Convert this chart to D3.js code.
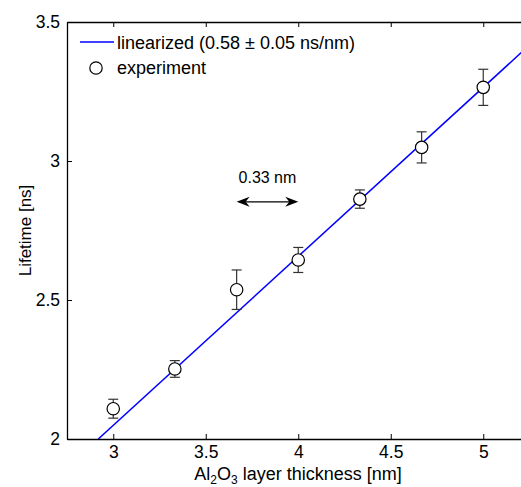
<!DOCTYPE html>
<html><head><meta charset="utf-8">
<script src="https://cdn.jsdelivr.net/npm/d3@7"></script>
<style>body{margin:0;background:#fff;} text{font-family:"Liberation Sans",Arial,sans-serif;}</style>
</head><body><svg id="c" width="521" height="487"></svg>
<script>
const thickness = [3.0, 3.333, 3.667, 4.0, 4.333, 4.667, 5.0];
const lifetime = [2.109, 2.252, 2.537, 2.644, 2.863, 3.049, 3.265];
const lifetimeErr = [0.034, 0.030, 0.071, 0.045, 0.033, 0.056, 0.065];
const fitX = [2.919, 5.25];
const fitY = [2.0, 3.417];
const xTicks = [3, 3.5, 4, 4.5, 5];
const yTicks = [2, 2.5, 3, 3.5];
const arrowX = [3.667, 4.0];
const arrowY = 2.853;

const svg = d3.select("#c");
const L = 67, T = 22, B = 439;
const x = d3.scaleLinear().domain([2.75, 5.25]).range([L, L + 2.5 * 185]);
const y = d3.scaleLinear().domain([2, 3.5]).range([B, T]);

const defs = svg.append("defs");
const clip = defs.append("clipPath").attr("id", "pc");
clip.append("rect").attr("x", L).attr("y", T).attr("width", x(5.25) - L).attr("height", B - T);

// axes
const fs = 18;
const xb = svg.append("g").attr("transform", `translate(0,${B})`)
  .call(d3.axisBottom(x).tickValues(xTicks).tickSizeInner(-5).tickSizeOuter(0).tickPadding(7).tickFormat(d3.format("")));
const xt = svg.append("g").attr("transform", `translate(0,${T})`)
  .call(d3.axisTop(x).tickValues(xTicks).tickSizeInner(-5).tickSizeOuter(0).tickFormat(""));
const yl = svg.append("g").attr("transform", `translate(${L},0)`)
  .call(d3.axisLeft(y).tickValues(yTicks).tickSizeInner(-5).tickSizeOuter(0).tickPadding(7).tickFormat(d3.format("")));
[xb, xt, yl].forEach(g => {
  g.select(".domain").attr("stroke", "#000").attr("stroke-width", 1.3);
  g.selectAll(".tick line").attr("stroke", "#000").attr("stroke-width", 1);
  g.selectAll(".tick text").attr("font-size", 17.5).attr("fill", "#000").style("font-family", '"Liberation Sans",Arial,sans-serif');
});
xb.selectAll(".tick text").attr("dy", "0.71em");

// fit line
svg.append("line").attr("clip-path", "url(#pc)")
  .attr("x1", x(fitX[0])).attr("y1", y(fitY[0])).attr("x2", x(fitX[1])).attr("y2", y(fitY[1]))
  .attr("stroke", "#0000ff").attr("stroke-width", 1.5);

// error bars
const eg = svg.append("g").attr("stroke", "#333").attr("stroke-width", 1.2);
thickness.forEach((t, i) => {
  const cx = x(t), y0 = y(lifetime[i] - lifetimeErr[i]), y1 = y(lifetime[i] + lifetimeErr[i]);
  eg.append("line").attr("x1", cx).attr("x2", cx).attr("y1", y0).attr("y2", y1);
  eg.append("line").attr("x1", cx - 5).attr("x2", cx + 5).attr("y1", y0).attr("y2", y0);
  eg.append("line").attr("x1", cx - 5).attr("x2", cx + 5).attr("y1", y1).attr("y2", y1);
});
svg.append("g").selectAll("circle").data(thickness).join("circle")
  .attr("cx", d => x(d)).attr("cy", (d, i) => y(lifetime[i])).attr("r", 6.2)
  .attr("fill", "#fff").attr("stroke", "#000").attr("stroke-width", 1.2);

// arrow annotation
const ay = y(arrowY);
const ax0 = x(arrowX[0]), ax1 = x(arrowX[1]);
svg.append("line").attr("x1", ax0 + 3).attr("x2", ax1 - 3).attr("y1", ay).attr("y2", ay).attr("stroke", "#000").attr("stroke-width", 1.3);
svg.append("path").attr("d", `M${ax0},${ay} L${ax0 + 13},${ay - 5} L${ax0 + 9},${ay} L${ax0 + 13},${ay + 5} Z`).attr("fill", "#000");
svg.append("path").attr("d", `M${ax1},${ay} L${ax1 - 13},${ay - 5} L${ax1 - 9},${ay} L${ax1 - 13},${ay + 5} Z`).attr("fill", "#000");
svg.append("text").attr("x", (ax0 + ax1) / 2).attr("y", ay - 19).attr("text-anchor", "middle").attr("font-size", 16).text("0.33 nm");

// legend
svg.append("line").attr("x1", 80).attr("x2", 114).attr("y1", 42).attr("y2", 42).attr("stroke", "#0000ff").attr("stroke-width", 1.5);
svg.append("text").attr("x", 117).attr("y", 49).attr("font-size", fs).text("linearized (0.58 \u00b1 0.05 ns/nm)");
svg.append("circle").attr("cx", 96).attr("cy", 68).attr("r", 6.2).attr("fill", "#fff").attr("stroke", "#000").attr("stroke-width", 1.2);
svg.append("text").attr("x", 117).attr("y", 74).attr("font-size", fs).text("experiment");

// axis labels
const xlab = svg.append("text").attr("x", 298).attr("y", 480).attr("text-anchor", "middle").attr("font-size", fs);
xlab.append("tspan").text("Al");
xlab.append("tspan").attr("font-size", 12).attr("dy", 4).text("2");
xlab.append("tspan").attr("dy", -4).text("O");
xlab.append("tspan").attr("font-size", 12).attr("dy", 4).text("3");
xlab.append("tspan").attr("dy", -4).text(" layer thickness [nm]");

svg.append("text").attr("transform", `translate(31,${(T + B) / 2}) rotate(-90)`).attr("text-anchor", "middle").attr("font-size", 17).text("Lifetime [ns]");
</script></body></html>
